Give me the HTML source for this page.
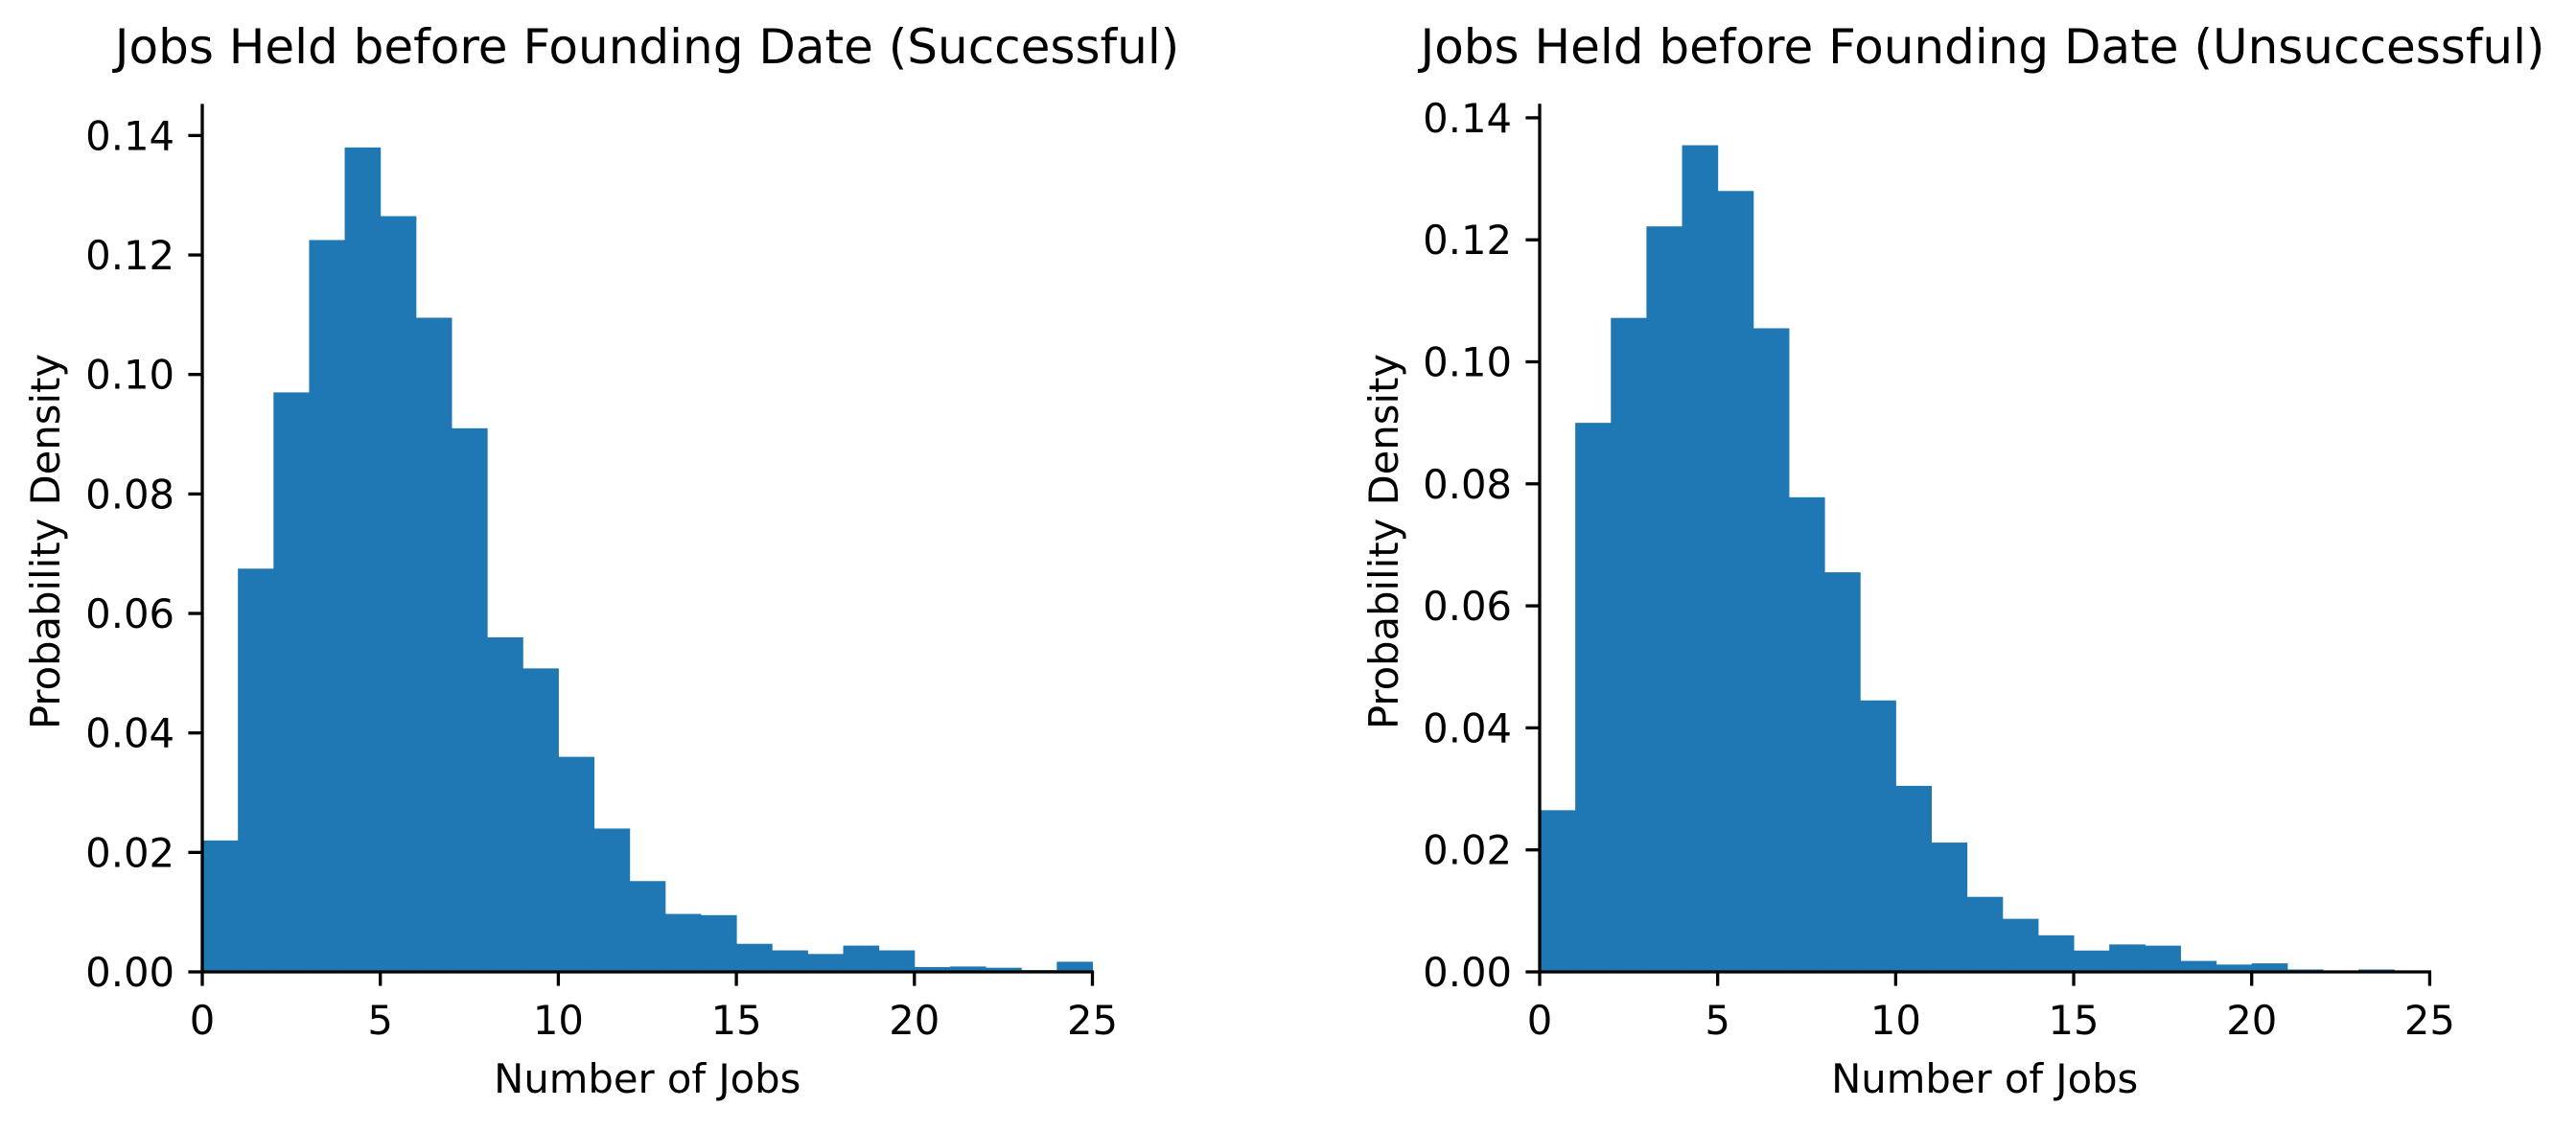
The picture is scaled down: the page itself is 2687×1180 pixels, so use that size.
<!DOCTYPE html>
<html><head><meta charset="utf-8"><style>
html,body{margin:0;padding:0;background:#fff;}
svg text{font-family:"DejaVu Sans","Liberation Sans",sans-serif;fill:#000;}
</style></head><body>
<svg id="chart" width="2687" height="1175" xmlns="http://www.w3.org/2000/svg"></svg>
<script>
const bins = [0,1,2,3,4,5,6,7,8,9,10,11,12,13,14,15,16,17,18,19,20,21,22,23,24];
const successValues = [0.022,0.0675,0.097,0.1225,0.138,0.1265,0.1095,0.091,0.056,0.0508,0.036,0.024,0.0152,0.0097,0.0095,0.0047,0.0036,0.003,0.0044,0.0036,0.0008,0.0009,0.0007,0.0003,0.0017];
const failValues = [0.0265,0.090,0.1072,0.1222,0.1355,0.128,0.1055,0.0778,0.0655,0.0445,0.0305,0.0212,0.0123,0.0087,0.006,0.0035,0.0045,0.0043,0.0018,0.0012,0.0014,0.0004,0.0001,0.0004,0];
const xTicks = [0,5,10,15,20,25];
const yTicks = [0,0.02,0.04,0.06,0.08,0.10,0.12,0.14];
const yTickLabels = ["0.00","0.02","0.04","0.06","0.08","0.10","0.12","0.14"];
const NS="http://www.w3.org/2000/svg";
const svg=document.getElementById('chart');
function mk(tag,attrs,parent){const e=document.createElementNS(NS,tag);for(const k in attrs)e.setAttribute(k,attrs[k]);(parent||svg).appendChild(e);return e;}
function panel(cfg){
  const g=mk('g',{});
  
  
  const xs=v=>cfg.x0+(v/25)*(cfg.x1-cfg.x0);
  const ys=v=>cfg.y0-v*cfg.pxPerUnit;
  cfg.values.forEach((v,i)=>{
    const r=mk('rect',{x:xs(bins[i]),y:ys(v),width:xs(bins[i]+1)-xs(bins[i])+0.5,height:cfg.y0-ys(v),fill:'#1f77b4'},g);
    
    
  });
  const ya=mk('line',{x1:cfg.x0,y1:ys(cfg.yMax),x2:cfg.x0,y2:cfg.y0+1.6,stroke:'#000','stroke-width':3.3},g);
  
  
  const xa=mk('line',{x1:cfg.x0-1.6,y1:cfg.y0,x2:cfg.x1+1.6,y2:cfg.y0,stroke:'#000','stroke-width':3.3},g);
  
  
  xTicks.forEach(t=>{
    mk('line',{x1:xs(t),y1:cfg.y0,x2:xs(t),y2:cfg.y0+14.6,stroke:'#000','stroke-width':3.3},g);
    const tx=mk('text',{x:xs(t),y:1079,'font-size':41.7,'text-anchor':'middle'},g);
    tx.textContent=t;
    
    
  });
  yTicks.forEach((t,i)=>{
    mk('line',{x1:cfg.x0-14.6,y1:ys(t),x2:cfg.x0,y2:ys(t),stroke:'#000','stroke-width':3.3},g);
    const tx=mk('text',{x:cfg.x0-29,y:ys(t)+15,'font-size':41.7,'text-anchor':'end'},g);
    tx.textContent=yTickLabels[i];
    
    
  });
  const xl=mk('text',{x:(cfg.x0+cfg.x1)/2,y:1140,'font-size':41.7,'text-anchor':'middle'},g);
  xl.textContent='Number of Jobs';
  
  
  const yl=mk('text',{x:0,y:0,'font-size':41.7,'text-anchor':'middle',transform:`translate(${cfg.ylx},565) rotate(-90)`},g);
  yl.textContent='Probability Density';
  
  
  const tt=mk('text',{x:cfg.tx,y:66,'font-size':50,'text-anchor':'middle'},g);
  tt.textContent=cfg.title;
  
  
}
panel({name:'successful-panel',values:successValues,x0:211,x1:1139.5,y0:1014,pxPerUnit:6233,yMax:0.1453,ylx:62,tx:675,title:'Jobs Held before Founding Date (Successful)'});
panel({name:'unsuccessful-panel',values:failValues,x0:1606,x1:2534.4,y0:1014,pxPerUnit:6365,yMax:0.1423,ylx:1458,tx:2068,title:'Jobs Held before Founding Date (Unsuccessful)'});
</script>
</body></html>
